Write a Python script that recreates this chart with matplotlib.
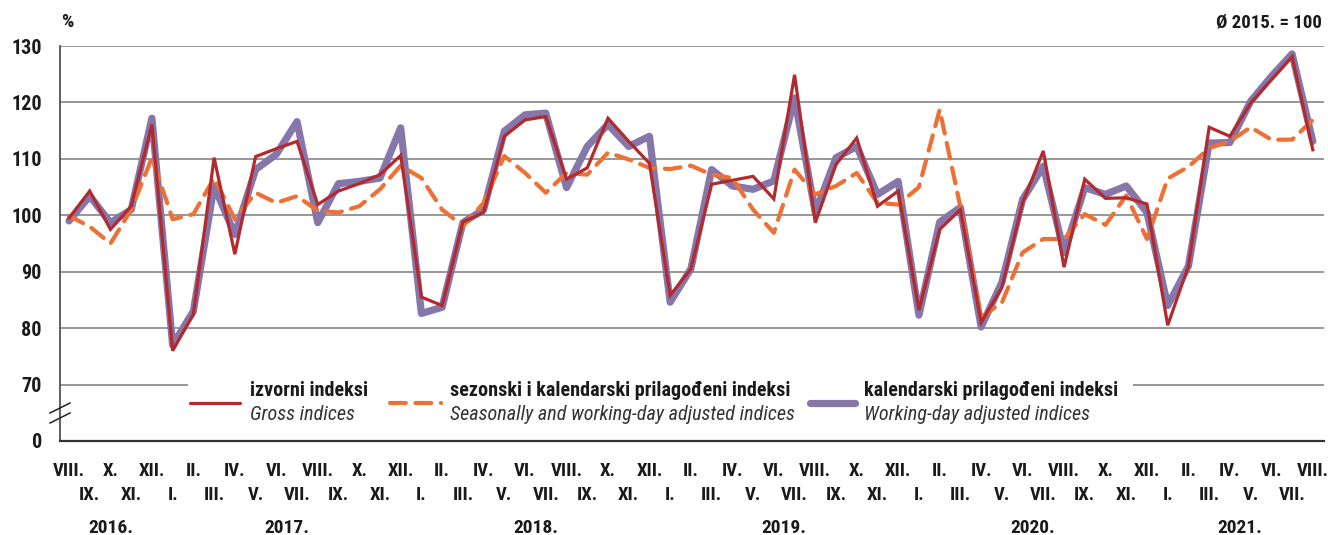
import matplotlib
matplotlib.use("Agg")
import matplotlib.pyplot as plt
from matplotlib import font_manager
from matplotlib.lines import Line2D
from matplotlib.patches import Rectangle
from matplotlib.ticker import FixedLocator

# ---------------- data ----------------
roman = ['I.', 'II.', 'III.', 'IV.', 'V.', 'VI.', 'VII.', 'VIII.', 'IX.', 'X.', 'XI.', 'XII.']
month_labels = [roman[(7 + i) % 12] for i in range(61)]   # VIII.2016 ... VIII.2021
years = ['2016.', '2017.', '2018.', '2019.', '2020.', '2021.']

gross = [99.5, 104.3, 97.5, 101.6, 116.1, 76.0, 82.5, 110.2, 93.1, 110.4,
         111.8, 113.1, 101.9, 104.3, 105.6, 107.2, 110.6, 85.5, 84.0, 98.8,
         100.5, 114.0, 116.9, 117.5, 106.4, 108.4, 117.2, 113.1, 109.2, 85.8,
         90.5, 105.5, 106.2, 106.9, 102.9, 124.9, 98.7, 109.0, 113.7, 101.6,
         104.3, 83.2, 97.5, 101.0, 81.0, 87.2, 102.2, 111.4, 90.8, 106.4,
         103.0, 103.1, 102.0, 80.5, 91.0, 115.6, 114.0, 119.9, 124.0, 128.1, 111.6]

seasonal = [99.9, 98.0, 95.0, 101.0, 110.2, 99.3, 100.2, 106.6, 99.3, 104.0,
            102.2, 103.4, 100.8, 100.5, 101.6, 104.6, 108.8, 106.6, 101.0, 98.1,
            102.2, 110.5, 107.5, 104.0, 107.5, 107.2, 111.1, 109.9, 108.4, 108.2,
            108.8, 107.2, 106.6, 101.0, 96.9, 108.1, 103.7, 105.2, 107.5, 102.2,
            101.9, 105.0, 118.7, 101.5, 82.0, 84.5, 93.4, 95.8, 95.8, 100.2,
            98.3, 103.5, 95.8, 106.5, 108.6, 111.9, 113.1, 115.6, 113.4, 113.4, 116.9]

working = [99.0, 103.4, 98.7, 101.0, 117.2, 77.0, 83.0, 105.2, 96.6, 108.1,
           110.8, 116.6, 98.7, 105.6, 106.0, 106.6, 115.5, 82.6, 83.7, 98.7,
           101.0, 114.9, 117.8, 118.1, 104.9, 112.2, 116.1, 112.2, 114.0, 84.6,
           90.5, 108.1, 105.2, 104.6, 106.1, 120.8, 100.5, 110.2, 112.2, 103.7,
           106.0, 82.3, 98.8, 101.4, 80.2, 88.1, 102.8, 108.7, 93.4, 104.9,
           103.7, 105.2, 100.5, 84.0, 91.0, 112.8, 112.9, 120.2, 124.6, 128.6, 113.1]

ytick_vals = [60, 70, 80, 90, 100, 110, 120, 130]
ytick_labels = ['0', '70', '80', '90', '100', '110', '120', '130']

legend_main = ['izvorni indeksi', 'sezonski i kalendarski prilagođeni indeksi',
               'kalendarski prilagođeni indeksi']
legend_sub = ['Gross indices', 'Seasonally and working-day adjusted indices',
              'Working-day adjusted indices']

RED = '#B22A2E'
ORANGE = '#EE7034'
PURPLE = '#8676AA'
GRID = '#7a7a7a'
TXT = '#1a1a1a'

# ---------------- font ----------------
names = {f.name for f in font_manager.fontManager.ttflist}
font = 'DejaVu Sans'
for cand in ['Liberation Sans Narrow', 'Roboto Condensed', 'Open Sans Condensed', 'Liberation Sans']:
    if cand in names:
        font = cand
        break
plt.rcParams['font.family'] = [font, 'DejaVu Sans']
WT = 'bold'

W, H = 1328, 535
fig = plt.figure(figsize=(W / 100, H / 100), dpi=100)
ax = fig.add_axes([60 / W, 1 - 441 / H, (1324 - 60) / W, (441 - 46) / H])

x = list(range(len(month_labels)))
ax.plot(x, working, color=PURPLE, lw=5.2, solid_joinstyle='round', solid_capstyle='round', zorder=3)
ax.plot(x, seasonal, color=ORANGE, lw=3.0, dashes=(3.8, 2.3), dash_capstyle='round', zorder=4)
ax.plot(x, gross, color=RED, lw=2.3, solid_joinstyle='miter', zorder=5)

ax.set_xlim(-0.434, 60.54)
ax.set_ylim(60, 130)

# y axis
ax.set_yticks(ytick_vals)
ax.set_yticklabels(ytick_labels, fontweight=WT)
ax.tick_params(axis='y', length=0, pad=13, labelsize=14.5, labelcolor=TXT)
for v in ytick_vals[1:]:
    ax.axhline(v, color=GRID, lw=1.1, zorder=1)

# x axis: two alternating rows
ax.xaxis.set_major_locator(FixedLocator(x[0::2]))
ax.set_xticklabels(month_labels[0::2], fontweight=WT)
ax.xaxis.set_minor_locator(FixedLocator(x[1::2]))
ax.set_xticklabels(month_labels[1::2], minor=True, fontweight=WT)
ax.tick_params(axis='x', which='major', length=0, pad=15, labelsize=13.5, labelcolor=TXT)
ax.tick_params(axis='x', which='minor', length=0, pad=32.5, labelsize=13.5, labelcolor=TXT)

# year labels centred under their months
for k, yr in enumerate(years):
    idx = [i for i in x if (2016 + (7 + i) // 12) == 2016 + k]
    cx = (idx[0] + idx[-1]) / 2
    ax.annotate(yr, xy=(cx, 0), xycoords=('data', 'axes fraction'),
                xytext=(0, -56), textcoords='offset points',
                ha='center', va='top', fontsize=14, color=TXT, fontweight=WT)

for s in ['top', 'right']:
    ax.spines[s].set_visible(False)
ax.spines['left'].set_color('#444444')
ax.spines['left'].set_linewidth(1.2)
ax.spines['bottom'].set_color('#333333')
ax.spines['bottom'].set_linewidth(1.6)

# top annotations
fig.text(61 / W, 1 - 22 / H, '%', ha='left', va='center', fontsize=14, color=TXT, fontweight=WT)
fig.text(1322 / W, 1 - 22 / H, 'Ø 2015. = 100', ha='right', va='center', fontsize=13.5,
         color=TXT, fontweight=WT)

# axis break marks
for y0 in (413, 423):
    fig.add_artist(Line2D([50 / W, 70 / W], [1 - y0 / H, 1 - (y0 - 10) / H],
                          color='#222222', lw=1.1, zorder=6))

# legend (white box hides the 70 gridline behind it)
fig.add_artist(Rectangle((188 / W, 1 - 432 / H), (1133 - 188) / W, (432 - 372) / H,
                         transform=fig.transFigure, facecolor='white', edgecolor='none', zorder=5))
samples = [(190, 240, RED, 2.3, None), (390, 441, ORANGE, 3.0, (3.8, 2.3)), (810, 855, PURPLE, 5.2, None)]
text_x = [250, 450, 864]
for (x0, x1, c, lw, d), tx, m, sub in zip(samples, text_x, legend_main, legend_sub):
    ln = Line2D([x0 / W, x1 / W], [1 - 403 / H, 1 - 403 / H], color=c, lw=lw,
                solid_capstyle='round', dash_capstyle='round', zorder=7)
    if d:
        ln.set_dashes(d)
    fig.add_artist(ln)
    fig.text(tx / W, 1 - 390 / H, m, ha='left', va='center', fontsize=14.5, color=TXT,
             fontweight=WT, zorder=7)
    fig.text(tx / W, 1 - 414 / H, sub, ha='left', va='center', fontsize=14.5, style='italic',
             color='#333333', zorder=7)

fig.savefig('out.png', dpi=100)
